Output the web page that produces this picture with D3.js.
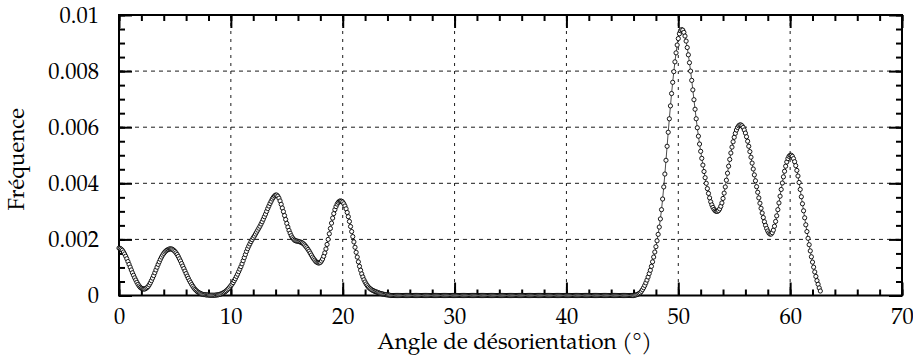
<!DOCTYPE html>
<html>
<head>
<meta charset="utf-8">
<script src="https://cdn.jsdelivr.net/npm/d3@7"></script>
<style>
  body { margin: 0; background: #fff; }
</style>
</head>
<body>
<div id="chart"></div>
<script>
// frequencies in units of 1e-4, one value every 0.1 degree
const angleStep = 0.1;

// 0.0 -> 10.0
const lowStart = 0;
const lowPeaks = [
  16.9,16.8,16.5,16.1,15.5,14.8,14.0,13.1,12.1,11.1,
  10.1,9.1,8.1,7.2,6.3,5.5,4.7,4.0,3.4,2.9,
  2.6,2.4,2.3,2.3,2.5,2.8,3.2,3.8,4.5,5.3,
  6.2,7.1,8.1,9.1,10.1,11.1,12.0,12.9,13.7,14.4,
  15.0,15.5,15.9,16.2,16.4,16.6,16.6,16.6,16.4,16.1,
  15.7,15.2,14.6,13.9,13.1,12.3,11.4,10.5,9.6,8.7,
  7.8,6.9,6.1,5.3,4.6,3.9,3.3,2.7,2.2,1.8,
  1.4,1.1,0.9,0.7,0.5,0.4,0.3,0.3,0.2,0.2,
  0.2,0.1,0.1,0.1,0.1,0.1,0.1,0.2,0.2,0.3,
  0.4,0.5,0.7,0.9,1.1,1.4,1.7,2.1,2.5,3.0,
  3.5
];

// 10.1 -> 24.2
const midStart = 10.1;
const midPeaks = [
  4.0,4.6,5.3,6.0,6.8,7.6,8.5,9.4,10.3,
  11.3,12.4,13.5,14.6,15.7,16.7,17.6,18.4,19.2,19.9,
  20.6,21.2,21.9,22.6,23.3,24.0,24.7,25.5,26.3,27.2,
  28.1,29.0,30.0,31.0,31.9,32.8,33.6,34.4,35.0,35.5,
  35.8,35.8,35.4,34.7,33.7,32.5,31.2,29.9,28.5,27.1,
  25.7,24.4,23.2,22.2,21.3,20.6,20.1,19.7,19.5,19.4,
  19.3,19.2,19.1,18.9,18.7,18.4,18.0,17.5,17.0,16.4,
  15.8,15.1,14.4,13.7,13.1,12.6,12.1,11.8,11.6,11.6,
  11.8,12.3,13.0,14.0,15.2,16.6,18.2,20.0,22.0,23.9,
  25.8,27.6,29.2,30.6,31.7,32.6,33.2,33.6,33.7,33.6,
  33.3,32.7,31.9,30.9,29.6,28.1,26.4,24.6,22.8,21.0,
  19.1,17.2,15.4,13.7,12.0,10.4,9.0,7.7,6.6,5.6,
  4.8,4.1,3.5,3.0,2.6,2.3,2.0,1.8,1.6,1.4,
  1.3,1.1,1.0,0.8,0.7,0.6,0.5,0.4,0.3,0.3,
  0.2,0.2,0.1
];

// 24.3 -> 46.0
const flatStart = 24.3;
const flatZone = [
  0,0,0,0,0,0,0,
  0,0,0,0,0,0,0,0,0,0, 0,0,0,0,0,0,0,0,0,0,
  0,0,0,0,0,0,0,0,0,0, 0,0,0,0,0,0,0,0,0,0,
  0,0,0,0,0,0,0,0,0,0, 0,0,0,0,0,0,0,0,0,0,
  0,0,0,0,0,0,0,0,0,0, 0,0,0,0,0,0,0,0,0,0,
  0,0,0,0,0,0,0,0,0,0, 0,0,0,0,0,0,0,0,0,0,
  0,0,0,0,0,0,0,0,0,0, 0,0,0,0,0,0,0,0,0,0,
  0,0,0,0,0,0,0,0,0,0, 0,0,0,0,0,0,0,0,0,0,
  0,0,0,0,0,0,0,0,0,0, 0,0,0,0,0,0,0,0,0,0,
  0,0,0,0,0,0,0,0,0,0, 0,0,0,0,0,0,0,0,0,0,
  0,0,0,0,0,0,0,0,0,0, 0,0,0,0,0,0,0,0,0,0,
  0,0,0,0,0,0,0,0,0,0,
  0
];

// 46.1 -> 62.7
const highStart = 46.1;
const highPeaks = [
  0.1,0.2,0.3,0.5,0.7,1.0,1.5,2.1,2.8,
  3.6,4.5,5.5,6.6,7.8,9.0,10.4,12.0,13.7,15.5,
  17.4,19.5,21.8,24.4,27.3,30.6,34.4,38.7,43.3,48.2,
  53.2,58.2,63.0,67.6,72.0,76.0,79.8,83.3,86.5,89.3,
  91.6,93.3,94.4,94.8,94.6,93.8,92.5,90.7,88.4,85.8,
  83.0,80.0,76.7,73.3,69.8,66.4,63.0,59.8,56.8,54.0,
  51.4,48.9,46.5,44.2,42.0,40.0,38.1,36.4,34.8,33.4,
  32.3,31.4,30.7,30.2,30.0,30.0,30.3,30.9,31.8,33.0,
  34.6,36.5,38.7,41.1,43.6,46.1,48.5,50.8,52.9,54.8,
  56.4,57.8,59.0,59.9,60.5,60.8,60.8,60.5,59.9,59.0,
  57.9,56.6,55.0,53.2,51.3,49.3,47.2,45.1,43.0,40.9,
  38.8,36.8,34.8,32.9,31.1,29.4,27.8,26.3,25.0,23.9,
  23.0,22.3,21.9,21.9,22.4,23.3,24.7,26.4,28.4,30.6,
  33.0,35.4,37.8,40.1,42.3,44.3,46.1,47.6,48.8,49.6,
  50.0,50.0,49.6,48.8,47.7,46.3,44.6,42.6,40.3,37.8,
  35.2,32.7,30.2,27.7,25.2,22.8,20.4,18.1,15.9,13.8,
  11.9,10.1,8.4,6.8,5.3,4.0,2.7,1.6
];

const xTicks = [0, 10, 20, 30, 40, 50, 60, 70];
const yTicks = [0, 0.002, 0.004, 0.006, 0.008, 0.01];
const yTickLabels = ["0", "0.002", "0.004", "0.006", "0.008", "0.01"];

const segments = [
  [lowStart, lowPeaks],
  [midStart, midPeaks],
  [flatStart, flatZone],
  [highStart, highPeaks]
];

const points = [];
segments.forEach(([start, vals]) => {
  vals.forEach((v, i) => {
    points.push({ angle: +(start + i * angleStep).toFixed(1), freq: v / 1e4 });
  });
});

const W = 913, H = 362;
const margin = { top: 15, right: 11, bottom: 66.5, left: 119 };
const width = W - margin.left - margin.right;
const height = H - margin.top - margin.bottom;
const fontFamily = "TeX Gyre Pagella, Liberation Serif, serif";
const fontSize = 22.5;

const svg = d3.select("#chart").append("svg")
  .attr("width", W)
  .attr("height", H);

const g = svg.append("g")
  .attr("transform", `translate(${margin.left},${margin.top})`);

const x = d3.scaleLinear().domain([0, 70]).range([0, width]);
const y = d3.scaleLinear().domain([0, 0.01]).range([height, 0]);

// grid
g.append("g").selectAll("line")
  .data(xTicks.slice(1, -1))
  .join("line")
  .attr("x1", d => x(d)).attr("x2", d => x(d))
  .attr("y1", 0).attr("y2", height)
  .attr("stroke", "#000").attr("stroke-width", 0.9)
  .attr("stroke-dasharray", "3,5");

g.append("g").selectAll("line")
  .data(yTicks.slice(1, -1))
  .join("line")
  .attr("x1", 0).attr("x2", width)
  .attr("y1", d => y(d)).attr("y2", d => y(d))
  .attr("stroke", "#000").attr("stroke-width", 0.9)
  .attr("stroke-dasharray", "4,4");

// minor ticks
const xMinor = d3.range(0, 70.01, 2);
const yMinor = d3.range(0, 0.01001, 0.0005);

function styleAxis(sel) {
  sel.attr("font-family", fontFamily).attr("font-size", fontSize);
  sel.select(".domain").remove();
  sel.selectAll(".tick line").attr("stroke", "#000").attr("stroke-width", 2);
  sel.selectAll("text").attr("fill", "#000");
}

g.append("g").attr("transform", `translate(0,${height})`)
  .call(d3.axisBottom(x).tickValues(xMinor).tickSize(-6).tickFormat(""))
  .call(styleAxis);
g.append("g")
  .call(d3.axisTop(x).tickValues(xMinor).tickSize(-6).tickFormat(""))
  .call(styleAxis);
g.append("g")
  .call(d3.axisLeft(y).tickValues(yMinor).tickSize(-6).tickFormat(""))
  .call(styleAxis);
g.append("g").attr("transform", `translate(${width},0)`)
  .call(d3.axisRight(y).tickValues(yMinor).tickSize(-6).tickFormat(""))
  .call(styleAxis);

// major ticks + labels
g.append("g").attr("transform", `translate(0,${height})`)
  .call(d3.axisBottom(x).tickValues(xTicks).tickSize(-13).tickPadding(13).tickFormat(d3.format("d")))
  .call(styleAxis);
g.append("g")
  .call(d3.axisTop(x).tickValues(xTicks).tickSize(-13).tickFormat(""))
  .call(styleAxis);
g.append("g")
  .call(d3.axisLeft(y).tickValues(yTicks).tickSize(-13).tickPadding(20).tickFormat((d, i) => yTickLabels[i]))
  .call(styleAxis);
g.append("g").attr("transform", `translate(${width},0)`)
  .call(d3.axisRight(y).tickValues(yTicks).tickSize(-13).tickFormat(""))
  .call(styleAxis);

// frame
g.append("rect")
  .attr("x", 0).attr("y", 0)
  .attr("width", width).attr("height", height)
  .attr("fill", "none").attr("stroke", "#000").attr("stroke-width", 2);

// data
const line = d3.line().x(d => x(d.angle)).y(d => y(d.freq));
g.append("path")
  .datum(points)
  .attr("d", line)
  .attr("fill", "none")
  .attr("stroke", "#000")
  .attr("stroke-width", 0.7);

g.append("g").selectAll("circle")
  .data(points)
  .join("circle")
  .attr("cx", d => x(d.angle))
  .attr("cy", d => y(d.freq))
  .attr("r", 2.1)
  .attr("fill", "#fff")
  .attr("stroke", "#000")
  .attr("stroke-width", 0.9);

// axis titles
svg.append("text")
  .attr("x", margin.left + width / 2 + 4)
  .attr("y", 349)
  .attr("text-anchor", "middle")
  .attr("font-family", fontFamily)
  .attr("font-size", fontSize)
  .text("Angle de désorientation (°)");

svg.append("text")
  .attr("transform", `translate(24,${margin.top + height / 2 + 4}) rotate(-90)`)
  .attr("text-anchor", "middle")
  .attr("font-family", fontFamily)
  .attr("font-size", fontSize)
  .text("Fréquence");
</script>
</body>
</html>
